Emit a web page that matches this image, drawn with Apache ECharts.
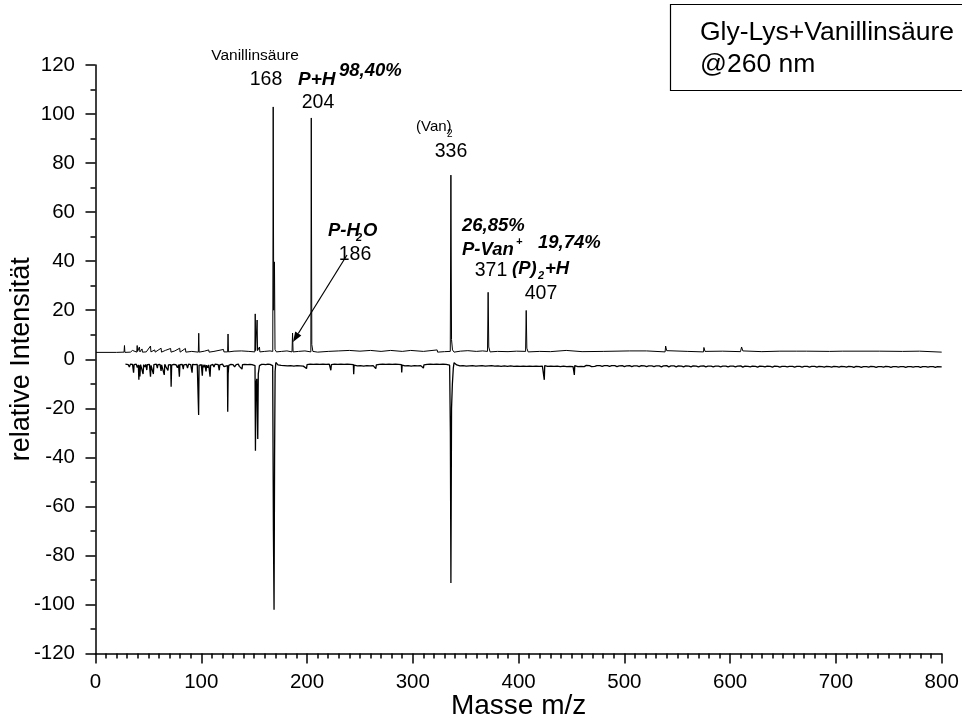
<!DOCTYPE html>
<html>
<head>
<meta charset="utf-8">
<script src="https://cdn.jsdelivr.net/npm/echarts@6/dist/echarts.min.js"></script>
<style>
html,body{margin:0;padding:0;background:#fff;}
#chart{width:962px;height:718px;}
</style>
</head>
<body>
<div id="chart"></div>
<script>
// ---- data ----
const xTicks = [0, 100, 200, 300, 400, 500, 600, 700, 800];
const yTicks = [-120, -100, -80, -60, -40, -20, 0, 20, 40, 60, 80, 100, 120];

// upper spectrum: [m/z, relative intensity]
const upperTrace = [
  [0.5,2.8],[20,2.8],[27,2.9],[27.4,5.6],[27.8,2.8],[33,2.9],[35,3.6],[36,2.8],[39,2.9],[39.4,5.6],[39.8,3.2],
  [41.5,5],[42,3],[44,4.2],[44.4,2.9],[48,3],[52,5.4],[52.4,3],[56,3.8],[56.4,2.9],[62,4.5],[62.4,2.9],
  [66,3.6],[66.4,2.8],[71,4.4],[71.4,2.9],[75,3.4],[79.6,4.5],[80,2.9],[85,4.4],[85.4,2.9],[91,3.2],
  [97.2,2.9],[97.6,10.6],[98,2.9],[103,3.3],[107,3.8],[107.4,2.9],[112,3.2],[121,4],[121.4,3],
  [124.9,3],[125.3,10.3],[125.7,3],[131,3.3],[138,3.4],[145,3.2],[150.6,3],[151,18.5],[151.4,3.5],
  [152.8,16],[153.2,3.5],[155,5],[155.4,3],[160,3.2],[165,3.4],[167.6,3.2],[168,102.9],[168.5,20],
  [169.2,39.7],[169.7,4],[171,3],[176,3.2],[181,3.4],[185.8,3],[186.3,10.7],[186.8,3],[192,3.2],
  [198,3.4],[203.6,3],[204,98.4],[204.5,6],[205.5,3.2],[210,2.9],[220,3.2],[230,3.4],[240,3.6],
  [240.4,2.9],[250,3.3],[260,3.6],[260.4,2.9],[270,3.2],[279,3.6],[279.4,2.9],[290,3.2],[298,3.6],
  [298.4,2.9],[310,3.2],[323,3.8],[323.4,2.9],[330,3.1],[335.4,3.2],[336,75.1],[336.6,8],[337.5,3.8],
  [339,2.9],[345,3.3],[352,3.5],[360,3.2],[366,3.4],[370.6,3.2],[371.2,27.3],[371.8,5],[373,3],
  [380,3.2],[390,3.1],[398,3.3],[406.6,3.2],[407.2,19.9],[407.8,4.5],[409,3],[420,3.2],[430,3.1],
  [445,3.6],[446,2.9],[460,3.1],[480,3.2],[505,3.4],[521,3.4],[538.5,3],[539,5.4],[540,3.5],[541,2.9],
  [560,3.2],[574.8,3],[575.2,4.8],[576.2,3.2],[577,2.9],[593,3.3],[609.8,3.1],[610.8,5],[612,3.4],
  [613,2.9],[630,3.1],[647,3.3],[663,3.3],[672,3.3],[694,3.2],[706,3.3],[741,3.3],[763,3.2],[779,3.3],
  [800,2.9]
];

// lower (inverted) spectrum: [m/z, relative intensity]
const lowerTrace = [
  [28.3,-2],[29.5,-2.4],[31,-2.2],[32,-3.2],[33,-2],[34,-2.5],[35,-2.1],[36,-5.5],[36.5,-2.2],[37.5,-2.6],
  [38.5,-2],[39.5,-3.4],[40.5,-2.3],[41,-8.4],[41.5,-2.5],[42,-7],[42.6,-2.2],[43.5,-3],[44,-2.4],[45,-6],
  [45.5,-2.2],[46.5,-3.2],[47.5,-2.1],[48.5,-4.4],[49,-2.2],[50,-2.8],[51,-2.1],[51.7,-2.4],[52,-7.1],
  [52.5,-2.5],[53.5,-3.3],[54.7,-6],[55.2,-2.2],[56.5,-2.9],[57.5,-2],[58.5,-3.6],[59,-2.2],[60,-2.7],
  [61,-2.1],[62,-4.8],[62.5,-2.3],[63.5,-2.8],[65,-6.4],[65.5,-2.1],[66.5,-3],[67.5,-2.2],[68.5,-4.6],
  [69,-2.3],[70,-2.8],[71.1,-2.2],[71.5,-11.2],[72,-2.4],[73,-3.1],[74,-2.1],[75,-2.7],[76,-2.2],
  [77.5,-3.5],[78.5,-2.2],[79.3,-7.1],[79.8,-2.2],[81,-2.9],[82,-2.1],[83,-4],[83.5,-2.3],[85,-2.8],
  [86,-2.1],[87,-3.6],[88,-2],[89,-2.7],[90,-2.2],[91.3,-5.5],[91.8,-2.1],[93,-2.8],[94,-2.2],[95,-2.7],
  [96.2,-2.1],[97.2,-2.2],[97.5,-22.7],[97.9,-2.5],[99,-3],[100,-2.2],[101,-6.7],[101.5,-2.2],[102.5,-3.2],
  [103.5,-2.3],[104.5,-5],[105,-2.4],[106,-3.5],[107,-2.3],[108.3,-7.1],[108.8,-2.5],[110,-2.9],[111,-2.1],
  [112,-3.2],[113,-2],[114.5,-2.8],[116,-2.2],[117,-4.5],[117.5,-2.3],[119,-2.8],[120,-2],[121.5,-3],
  [123,-2.3],[124.7,-2.6],[125,-21.4],[125.4,-6],[126,-2.5],[127,-3],[128,-2.1],[129,-2.8],[130,-2.2],
  [131.5,-3.1],[133,-2.2],[134,-2.8],[135,-2],[136,-2.9],[137,-2.1],[138.5,-4],[139,-2.2],[140,-2.9],
  [141,-2.1],[142.5,-2.8],[144,-2.2],[145,-3],[146,-2.1],[147,-2.8],[148,-2.2],[149,-2.9],[150.8,-2.6],
  [151.2,-37.3],[151.7,-10],[152.5,-8],[153.4,-32.5],[153.9,-6],[155,-2.6],[156,-3.1],[157,-2.1],
  [158,-2.7],[159,-2.1],[160,-2.9],[161,-2.2],[162,-2.8],[163,-2],[164,-2.7],[165,-2.1],[166,-2.9],
  [167.5,-2.6],[168.2,-70],[168.8,-102.2],[169.3,-40],[169.8,-5],[170.5,-1.3],[171.5,-1.6],[172.5,-2.3],
  [174,-1.8],[175.5,-2.5],[177,-1.9],[178.5,-2.6],[180,-2],[181.5,-2.7],[183,-2.1],[184.5,-2.6],
  [186,-2],[187.5,-2.8],[189,-2.1],[190.5,-2.6],[192,-2],[193.5,-2.7],[195,-2.1],[196.5,-2.8],[198,-2.1],
  [199.5,-3.8],[200,-2.2],[201.5,-2.7],[203,-2],[204.5,-2.6],[206,-2.1],[207.5,-2.8],[209,-2],
  [210.5,-2.7],[212,-2.1],[213.5,-2.6],[215,-2],[216.5,-2.8],[218,-2.1],[219.5,-2.6],[221,-2],
  [222.5,-4.5],[223,-2.2],[224.5,-2.7],[226,-2],[227.5,-2.6],[229,-2.1],[230.5,-2.8],[232,-2],
  [233.5,-2.7],[235,-2.1],[236.5,-2.6],[238,-2],[239.5,-2.8],[241,-2.1],[242.5,-2.7],[243.8,-2.2],
  [244.1,-6.1],[244.5,-2.4],[246,-2],[247.5,-2.7],[249,-2.1],[250.5,-2.6],[252,-2],[253.5,-2.8],
  [255,-2.1],[256.5,-2.6],[258,-2],[259.5,-2.7],[261,-2.1],[262.5,-2.6],[264,-2],[265,-3.8],[265.5,-2.3],
  [267,-2.7],[268.5,-2.1],[270,-2.8],[271.5,-2],[273,-2.6],[274.5,-2.1],[276,-2.7],[277.5,-2],
  [279,-2.6],[280.5,-2.1],[282,-2.8],[283.5,-2],[285,-2.7],[286.5,-2.1],[288,-2.6],[289.2,-2.2],
  [289.5,-5.4],[289.9,-2.4],[291,-2],[292.5,-2.7],[294,-2.1],[295.5,-2.6],[297,-2],[298.5,-2.8],
  [300,-2.1],[301.5,-2.6],[303,-2],[304.5,-2.7],[306,-2.1],[307.5,-2.6],[309,-2],[310,-3.6],[310.5,-2.3],
  [312,-2.7],[313.5,-2.1],[315,-2.6],[316.5,-2],[318,-2.8],[319.5,-2.1],[321,-2.6],[322.5,-2],
  [324,-2.7],[325.5,-2.1],[327,-2.6],[328.5,-2],[330,-2.8],[331.5,-2.1],[333,-2.6],[334.8,-2.4],
  [335.5,-30],[336,-91.2],[336.6,-20],[337.4,-10],[338.3,-3.5],[339,-1.4],[340,-1.6],[341.5,-2.3],
  [343,-2],[344.5,-2.7],[346,-2.1],[347.5,-2.6],[349,-2.1],[350.5,-2.8],[352,-2.2],[353.5,-2.7],
  [355,-2.1],[356.5,-2.6],[358,-2.2],[359.5,-2.8],[361,-2.1],[362.5,-2.7],[364,-2.2],[365.5,-2.6],
  [367,-2.1],[368.5,-2.8],[370,-2.2],[371.5,-2.7],[373,-2.2],[374.5,-2.6],[376,-2.1],[377.5,-2.8],
  [379,-2.2],[380.5,-2.7],[382,-2.2],[383.5,-2.9],[385,-2.2],[386.5,-2.7],[388,-2.2],[389.5,-2.9],
  [391,-2.3],[392.5,-2.7],[394,-2.2],[395.5,-2.9],[397,-2.3],[398.5,-2.8],[400,-2.2],[401.5,-2.9],
  [403,-2.3],[404.5,-2.8],[406,-2.2],[407.5,-2.9],[409,-2.3],[410.5,-2.8],[412,-2.2],[413.5,-2.9],
  [415,-2.3],[416.5,-2.8],[418,-2.3],[419.5,-2.9],[421,-2.3],[422.5,-2.8],[424,-2.5],[424.3,-8.4],
  [424.7,-2.6],[426,-2.2],[427.5,-2.9],[429,-2.3],[430.5,-2.8],[432,-2.2],[433.5,-2.9],[435,-2.3],
  [436.5,-2.8],[438,-2.3],[439.5,-3],[441,-2.3],[442.5,-2.8],[444,-2.4],[445.5,-3],[447,-2.3],
  [448.5,-2.9],[450,-2.4],[451.5,-3],[452.3,-2.5],[452.7,-6.4],[453.1,-2.6],[454.5,-2.4],[456,-3],
  [457.5,-2.4],[459,-2.9],[460.5,-2.4],[462,-3],[464,-2.5],[465.5,-2.8],[467,-2.6],[469,-3],[470.5,-2.5],
  [472,-2.9],[474,-2.6],[475.5,-3.1],[477,-2.6],[479,-2.9],[481,-2.6],[482.5,-3.1],[484,-2.6],[486,-2.9],
  [488,-2.6],[489.5,-3.1],[491,-2.6],[493,-3],[495,-2.7],[496.5,-3.1],[498,-2.6],[500,-3],[502,-2.7],
  [503.5,-3.2],[505,-2.6],[507,-3],[509,-2.7],[510.5,-3.2],[512,-2.7],[514,-3],[516,-2.6],[517.5,-3.2],
  [519,-2.7],[521,-3],[523,-2.7],[524.5,-3.2],[526,-2.7],[528,-3],[530,-2.7],[531.5,-3.2],[533,-2.7],
  [535,-3.1],[537,-2.7],[538.5,-3.2],[540,-2.6],[542,-3.1],[544,-2.7],[545.5,-3.2],[547,-2.7],[549,-3.1],
  [551,-2.7],[552.5,-3.2],[554,-2.8],[556,-3.1],[558,-2.7],[559.5,-3.2],[561,-2.8],[563,-3.1],[565,-2.7],
  [566.5,-3.2],[568,-2.8],[570,-3.1],[572,-2.8],[573.5,-3.2],[575,-2.7],[577,-3.1],[579,-2.8],[580.5,-3.3],
  [582,-2.8],[584,-3.1],[586,-2.8],[587.5,-3.2],[589,-2.8],[591,-3.1],[593,-2.8],[594.5,-3.3],[596,-2.8],
  [598,-3.1],[600,-2.8],[601.5,-3.3],[603,-2.8],[605,-3.1],[607,-2.8],[608.5,-3.3],[610,-2.7],[612,-3.2],
  [614,-2.8],[615.5,-3.3],[617,-2.9],[619,-3.1],[621,-2.8],[622.5,-3.3],[624,-2.9],[626,-3.2],[628,-2.8],
  [629.5,-3.3],[631,-2.9],[633,-3.1],[635,-2.8],[636.5,-3.3],[638,-2.9],[640,-3.2],[642,-2.8],[643.5,-3.3],
  [645,-2.9],[647,-3.2],[649,-2.9],[650.5,-3.3],[652,-2.9],[654,-3.1],[656,-2.9],[657.5,-3.4],[659,-2.9],
  [661,-3.2],[663,-2.9],[664.5,-3.3],[666,-2.9],[668,-3.2],[670,-2.9],[671.5,-3.4],[673,-2.9],[675,-3.2],
  [677,-2.9],[678.5,-3.3],[680,-2.9],[682,-3.2],[684,-2.9],[685.5,-3.4],[687,-3],[689,-3.2],[691,-2.9],
  [692.5,-3.4],[694,-3],[696,-3.2],[698,-2.9],[699.5,-3.4],[701,-3],[703,-3.2],[705,-2.9],[706.5,-3.4],
  [708,-3],[710,-3.2],[712,-2.9],[713.5,-3.4],[715,-3],[717,-3.3],[719,-2.9],[720.5,-3.4],[722,-3],
  [724,-3.3],[726,-3],[727.5,-3.4],[729,-3],[731,-3.2],[733,-2.9],[734.5,-3.4],[736,-3],[738,-3.3],
  [740,-3],[741.5,-3.4],[743,-3],[745,-3.2],[747,-2.9],[748.5,-3.4],[750,-3],[752,-3.3],[754,-3],
  [755.5,-3.4],[757,-3],[759,-3.2],[761,-3],[762.5,-3.4],[764,-3],[766,-3.3],[768,-3],[769.5,-3.4],
  [771,-3],[773,-3.2],[775,-3],[776.5,-3.4],[778,-3],[780,-3.3],[782,-3],[783.5,-3.4],[785,-3],
  [787,-3.2],[789,-3],[790.5,-3.4],[792,-3],[794,-3.3],[796,-3],[797.5,-3.3],[800,-3.1]
];

const legendLines = ['Gly-Lys+Vanillinsäure', '@260 nm'];

// ---- chart ----
const FF = '"Liberation Sans", Arial, sans-serif';
const chart = echarts.init(document.getElementById('chart'), null, {renderer: 'canvas'});

function txt(text, x, y, size, opts) {
  opts = opts || {};
  return {
    type: 'text', x: x, y: y, z: 100,
    style: {
      text: text, fill: '#000', fontFamily: FF, fontSize: size,
      fontWeight: opts.bold ? 'bold' : 'normal',
      fontStyle: opts.italic ? 'italic' : 'normal',
      align: opts.align || 'left', verticalAlign: 'middle'
    }
  };
}
const BI = {bold: true, italic: true};

// arrow geometry (annotation)
const ax1 = 347, ay1 = 255, ax2 = 293, ay2 = 342;
const dx = ax2 - ax1, dy = ay2 - ay1, len = Math.sqrt(dx*dx + dy*dy);
const ux = dx/len, uy = dy/len, hl = 10, hw = 3.6;
const bx = ax2 - ux*hl, by = ay2 - uy*hl;

const option = {
  animation: false,
  backgroundColor: '#fff',
  grid: {left: 95.5, right: 20.3, top: 65, bottom: 64.5, containLabel: false, outerBoundsMode: 'none'},
  xAxis: {
    type: 'value', min: xTicks[0], max: xTicks[xTicks.length-1], interval: 100,
    name: 'Masse m/z', nameLocation: 'middle', nameGap: 39, nameMoveOverlap: false,
    nameTextStyle: {fontFamily: FF, fontSize: 28, color: '#000'},
    axisLine: {show: true, onZero: false, lineStyle: {color: '#000', width: 1.5}},
    axisTick: {show: true, inside: false, length: 10, lineStyle: {color: '#000', width: 1.5}},
    minorTick: {show: true, splitNumber: 10, length: 5, lineStyle: {color: '#000', width: 1.5}},
    splitLine: {show: false},
    axisLabel: {fontFamily: FF, fontSize: 20.5, color: '#000', margin: 18}
  },
  yAxis: {
    type: 'value', min: yTicks[0], max: yTicks[yTicks.length-1], interval: 20,
    name: 'relative Intensität', nameLocation: 'middle', nameGap: 60, nameMoveOverlap: false,
    nameTextStyle: {fontFamily: FF, fontSize: 27, color: '#000'},
    axisLine: {show: true, onZero: false, lineStyle: {color: '#000', width: 1.5}},
    axisTick: {show: true, inside: false, length: 10, lineStyle: {color: '#000', width: 1.5}},
    minorTick: {show: true, splitNumber: 2, length: 5, lineStyle: {color: '#000', width: 1.5}},
    splitLine: {show: false},
    axisLabel: {fontFamily: FF, fontSize: 20.5, color: '#000', margin: 20.5}
  },
  series: [
    {type: 'line', data: upperTrace, showSymbol: false, symbol: 'none', sampling: null,
     lineStyle: {color: '#000', width: 1}, silent: true},
    {type: 'line', data: lowerTrace, showSymbol: false, symbol: 'none', sampling: null,
     lineStyle: {color: '#000', width: 1.3}, silent: true}
  ],
  graphic: [
    {type: 'rect', shape: {x: 670.5, y: 4.5, width: 320, height: 86},
     style: {fill: '#fff', stroke: '#000', lineWidth: 1.2}, z: 90},
    txt(legendLines[0], 700, 33, 26.5),
    txt(legendLines[1], 700, 65, 26.5),

    txt('Vanillinsäure', 255, 56, 15.5, {align: 'center'}),
    txt('168', 266, 80, 19.5, {align: 'center'}),
    txt('P+H', 298, 80, 19, BI),
    txt('98,40%', 339, 71, 18.5, BI),
    txt('204', 318, 103, 19.5, {align: 'center'}),

    txt('(Van)', 416, 127, 15),
    txt('2', 447, 134, 10),
    txt('336', 451, 152, 19.5, {align: 'center'}),

    txt('P-H', 328, 231, 18.5, BI),
    txt('2', 356, 238, 11, BI),
    txt('O', 363, 231, 18.5, BI),
    txt('186', 355, 255, 19.5, {align: 'center'}),

    txt('26,85%', 462, 226, 18.5, BI),
    txt('P-Van', 462, 250, 18.5, BI),
    txt('+', 516, 242, 11, BI),
    txt('19,74%', 538, 243, 18.5, BI),
    txt('371', 491, 271, 19.5, {align: 'center'}),
    txt('(P)', 512, 269, 18.5, BI),
    txt('2', 538, 276, 11, BI),
    txt('+H', 545, 269, 18.5, BI),
    txt('407', 541, 294, 19.5, {align: 'center'}),

    {type: 'line', shape: {x1: ax1, y1: ay1, x2: bx, y2: by},
     style: {stroke: '#000', lineWidth: 1.2}, z: 100},
    {type: 'polygon', shape: {points: [[ax2, ay2], [bx - uy*hw, by + ux*hw], [bx + uy*hw, by - ux*hw]]},
     style: {fill: '#000'}, z: 100}
  ]
};
chart.setOption(option);
</script>
</body>
</html>
